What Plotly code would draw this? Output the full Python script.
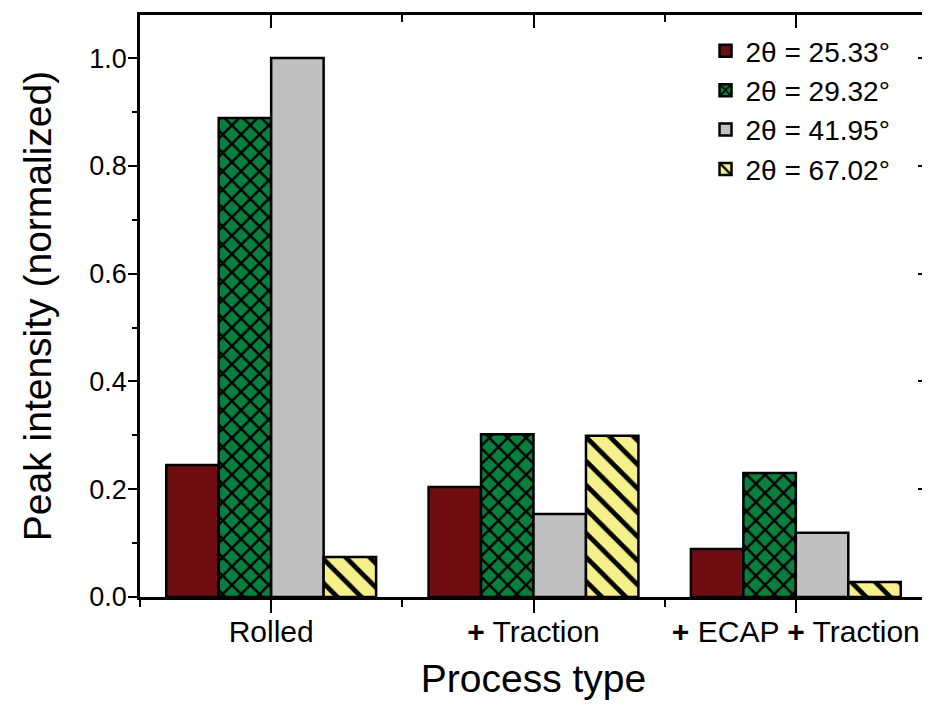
import plotly.graph_objects as go

categories = ["Rolled", "<b>+</b> Traction", "<b>+</b> ECAP <b>+</b> Traction"]
series_names = ["2θ = 25.33°", "2θ = 29.32°", "2θ = 41.95°", "2θ = 67.02°"]
peak_2533 = [0.245, 0.204, 0.089]
peak_2932 = [0.889, 0.302, 0.230]
peak_4195 = [1.000, 0.154, 0.119]
peak_6702 = [0.074, 0.299, 0.028]
y_ticks = [0.0, 0.2, 0.4, 0.6, 0.8, 1.0]

FONT = "Liberation Sans, Arial, sans-serif"
xpos = list(range(len(categories)))

styles = [
    dict(color="#6E0E11", pattern=None),
    dict(color="#07803F", pattern=dict(shape="x", fgcolor="black", bgcolor="#07803F",
                                       size=13, solidity=0.35, fillmode="replace")),
    dict(color="#C0C0C0", pattern=None),
    dict(color="#F5F08A", pattern=dict(shape="\\", fgcolor="black", bgcolor="#F5F08A",
                                       size=17, solidity=0.28, fillmode="replace")),
]
values = [peak_2533, peak_2932, peak_4195, peak_6702]

fig = go.Figure()
for name, vals, st in zip(series_names, values, styles):
    marker = dict(color=st["color"], line=dict(color="black", width=2.5))
    if st["pattern"] is not None:
        marker["pattern"] = st["pattern"]
    fig.add_trace(go.Bar(x=xpos, y=vals, name=name, marker=marker))

# invisible trace to host the mirrored (inward-tick) top/right axes
fig.add_trace(go.Scatter(x=[None], y=[None], xaxis="x2", yaxis="y2",
                         showlegend=False, hoverinfo="skip"))

yr = [0, 1.08]
xr = [-0.5, 2.5]
fig.update_layout(
    width=930, height=708,
    margin=dict(l=132, r=11, t=7, b=119, autoexpand=False),
    paper_bgcolor="white", plot_bgcolor="white",
    barmode="group", bargap=0.2, bargroupgap=0,
    font=dict(family=FONT, color="black", size=28),
    showlegend=True,
    legend=dict(x=0.96, xanchor="right", y=0.981, yanchor="top",
                font=dict(size=28, family=FONT), bgcolor="rgba(0,0,0,0)",
                tracegroupgap=0),
    xaxis=dict(range=xr, tickmode="array", tickvals=xpos, ticktext=categories,
               ticks="outside", ticklen=13, tickwidth=2, tickcolor="black",
               showline=True, linecolor="black", linewidth=2.5, showgrid=False,
               zeroline=False, tickfont=dict(size=30, family=FONT), automargin=False,
               ticklabelstandoff=-7,
               minor=dict(tickmode="array", tickvals=[-0.5, 0.5, 1.5, 2.5],
                          ticks="outside", ticklen=7, tickwidth=2, tickcolor="black"),
               title=dict(text="Process type", font=dict(size=39, family=FONT), standoff=18)),
    yaxis=dict(range=yr, tickmode="array", tickvals=y_ticks,
               ticktext=[f"{v:.1f}" for v in y_ticks],
               ticks="outside", ticklen=9, tickwidth=2, tickcolor="black",
               showline=True, linecolor="black", linewidth=2.5, showgrid=False,
               zeroline=False, tickfont=dict(size=27, family=FONT), automargin=False,
               ticklabelstandoff=-4,
               minor=dict(dtick=0.1, tick0=0, ticks="outside", ticklen=5,
                          tickwidth=2, tickcolor="black"),
               title=dict(text="Peak intensity (normalized)", font=dict(size=39, family=FONT),
                          standoff=26)),
    xaxis2=dict(range=xr, overlaying="x", side="top", anchor="y2",
                tickmode="array", tickvals=xpos, showticklabels=False,
                ticks="inside", ticklen=13, tickwidth=2, tickcolor="black",
                showline=True, linecolor="black", linewidth=2.5, showgrid=False,
                zeroline=False, automargin=False,
                minor=dict(tickmode="array", tickvals=[-0.5, 0.5, 1.5, 2.5],
                           ticks="inside", ticklen=7, tickwidth=2, tickcolor="black")),
    yaxis2=dict(range=yr, overlaying="y", side="right", anchor="x2",
                tickmode="array", tickvals=y_ticks, showticklabels=False,
                ticks="inside", ticklen=9, tickwidth=2, tickcolor="black",
                showline=True, linecolor="black", linewidth=2.5, showgrid=False,
                zeroline=False, automargin=False,
                minor=dict(dtick=0.1, tick0=0, ticks="inside", ticklen=5,
                           tickwidth=2, tickcolor="black")),
)

fig.write_html("out.html")
